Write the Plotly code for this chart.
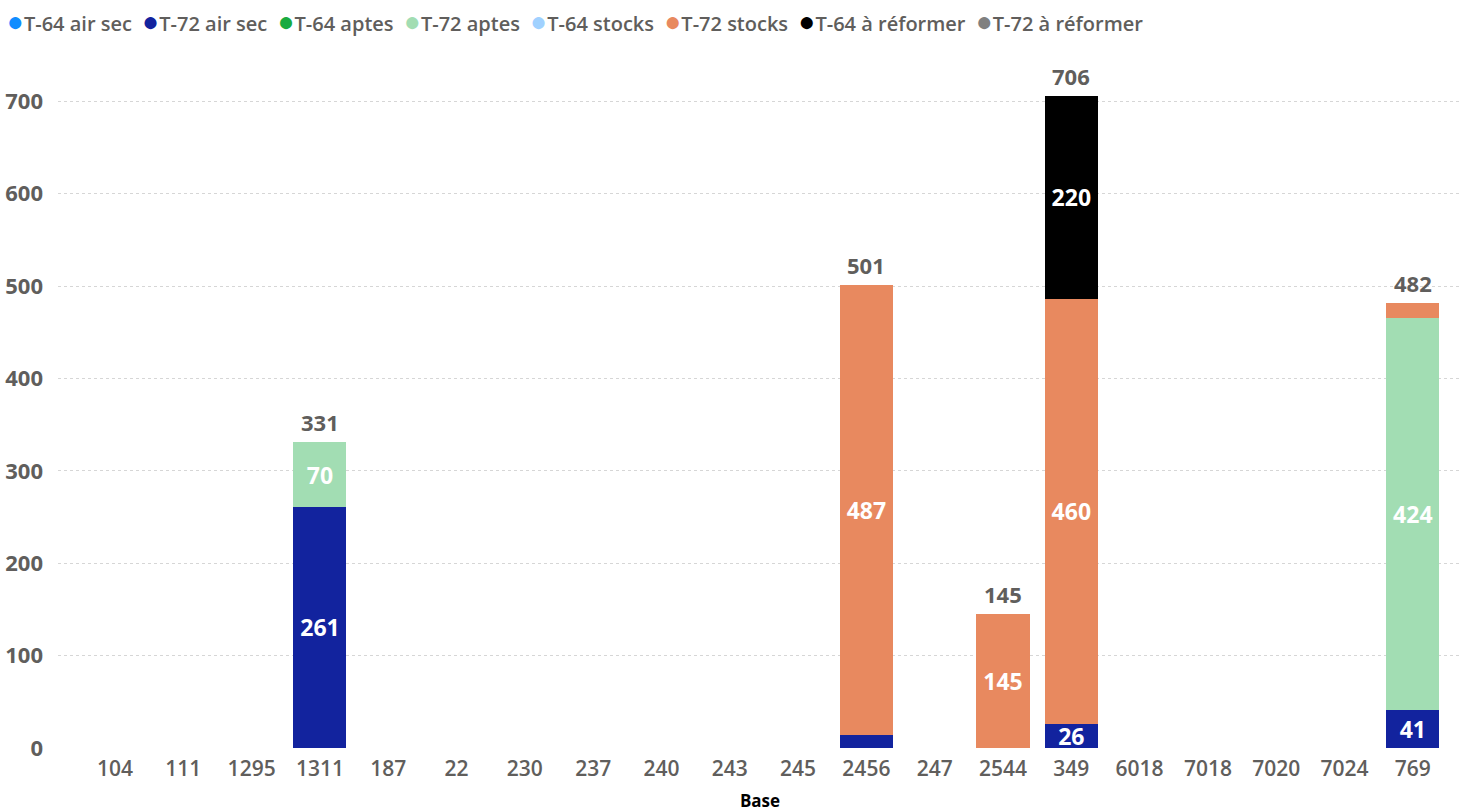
import plotly.graph_objects as go

# Bases (category axis)
bases = ["104", "111", "1295", "1311", "187", "22", "230", "237", "240", "243",
         "245", "2456", "247", "2544", "349", "6018", "7018", "7020", "7024", "769"]

# Tank counts per base and status (None = no tanks)
t64_air_sec = [None] * 20
t72_air_sec = [None, None, None, 261, None, None, None, None, None, None,
               None, 14, None, None, 26, None, None, None, None, 41]
t64_aptes = [None] * 20
t72_aptes = [None, None, None, 70, None, None, None, None, None, None,
             None, None, None, None, None, None, None, None, None, 424]
t64_stocks = [None] * 20
t72_stocks = [None, None, None, None, None, None, None, None, None, None,
              None, 487, None, 145, 460, None, None, None, None, 17]
t64_reformer = [None, None, None, None, None, None, None, None, None, None,
                None, None, None, None, 220, None, None, None, None, None]
t72_reformer = [None] * 20

series = [
    ("T-64 air sec", t64_air_sec, "#118DFF"),
    ("T-72 air sec", t72_air_sec, "#12239E"),
    ("T-64 aptes", t64_aptes, "#1AAB40"),
    ("T-72 aptes", t72_aptes, "#A2DDB3"),
    ("T-64 stocks", t64_stocks, "#A0D1FF"),
    ("T-72 stocks", t72_stocks, "#E8895F"),
    ("T-64 à réformer", t64_reformer, "#000000"),
    ("T-72 à réformer", t72_reformer, "#808080"),
]

GRAY = "#605E5C"
FONT = "Open Sans"

fig = go.Figure()
for name, vals, color in series:
    labels = [str(v) if (v is not None and v >= 20) else "" for v in vals]
    fig.add_trace(go.Bar(
        x=bases, y=vals, name=name, marker_color=color, marker_line_width=0,
        text=labels, textposition="inside", insidetextanchor="middle",
        textangle=0, constraintext="none",
        textfont=dict(color="white", size=23, family=FONT, weight="bold"),
        showlegend=False, hoverinfo="x+y+name",
    ))

# Totals above each stacked column (x given as category index)
for i, b in enumerate(bases):
    total = sum((vals[i] or 0) for _, vals, _ in series)
    if total > 0:
        fig.add_annotation(
            x=i, y=total, text=str(total), showarrow=False,
            yanchor="bottom", yshift=3,
            font=dict(color=GRAY, size=22, family=FONT, weight="bold"),
        )

# Legend row: coloured dots followed by series names
legend_html = "  ".join(
    f"<span style='color:{color};font-size:28px'>●</span>{name}" for name, _, color in series
)
fig.add_annotation(
    xref="paper", yref="paper", x=-0.038, y=1.051, xanchor="left", yanchor="middle",
    text=legend_html, showarrow=False, align="left",
    font=dict(size=20, color=GRAY, family=FONT, weight=600),
)

fig.update_layout(
    barmode="stack", bargap=0.224,
    width=1476, height=812,
    margin=dict(l=58, r=14, t=55, b=64),
    paper_bgcolor="white", plot_bgcolor="white",
    font=dict(family=FONT, color=GRAY),
    showlegend=False,
    xaxis=dict(
        type="category", range=[-0.835, 19.72], automargin=False,
        tickfont=dict(size=21, color=GRAY, family=FONT, weight=600),
        title=dict(text="Base", font=dict(size=17, color="#000000", family=FONT, weight="bold"),
                   standoff=14),
        showgrid=False, showline=False, ticks="", ticklabelstandoff=6,
    ),
    yaxis=dict(
        range=[0, 750], dtick=100, automargin=False,
        tickfont=dict(size=22, color=GRAY, family=FONT, weight="bold"),
        showgrid=True, gridcolor="#D6D6D6", griddash="dot", gridwidth=1,
        zeroline=False, ticks="", ticklabelstandoff=14,
    ),
)

fig.write_html("out.html")
